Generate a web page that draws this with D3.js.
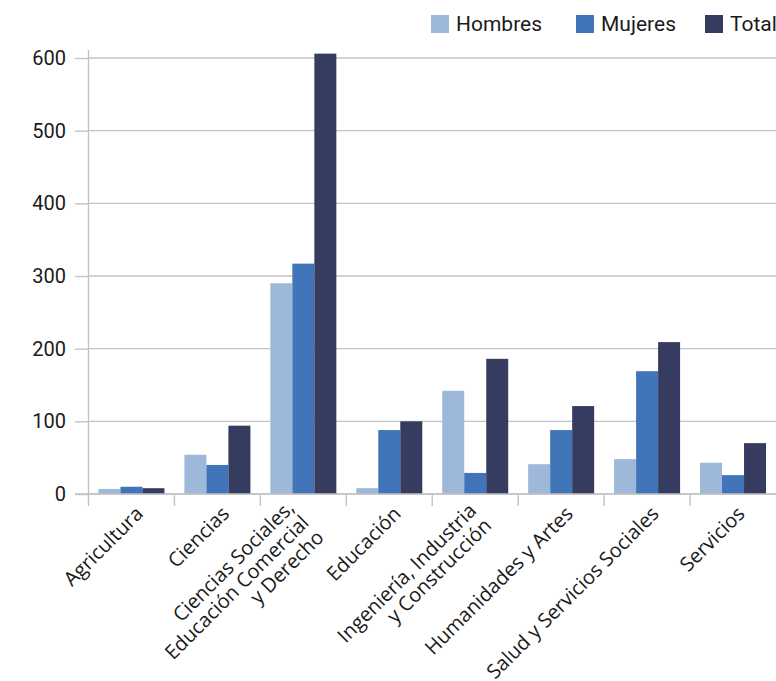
<!DOCTYPE html>
<html>
<head>
<meta charset="utf-8">
<script src="https://cdn.jsdelivr.net/npm/d3@7"></script>
<style>
  html, body { margin: 0; padding: 0; background: #fff; }
  svg { display: block; }
</style>
</head>
<body>
<svg id="chart" width="776" height="681"></svg>
<script>
// ---- data ----
const categories = [
  ["Agricultura"],
  ["Ciencias"],
  ["Ciencias Sociales,", "Educación Comercial", "y Derecho"],
  ["Educación"],
  ["Ingeniería, Industria", "y Construcción"],
  ["Humanidades y Artes"],
  ["Salud y Servicios Sociales"],
  ["Servicios"]
];
const seriesNames = ["Hombres", "Mujeres", "Total"];
const hombres = [7, 54, 290, 8, 142, 41, 48, 43];
const mujeres = [10, 40, 317, 88, 29, 88, 169, 26];
const total   = [8, 94, 606, 100, 186, 121, 209, 70];
const yTicks  = [0, 100, 200, 300, 400, 500, 600];
const colors  = ["#9db8d9", "#4174b8", "#363c5f"];

(function () {
const seriesValues = [hombres, mujeres, total];
const catKeys = categories.map(c => c.join(" "));

const svg = d3.select("#chart");
const pLeft = 88.5, pRight = 776, pTop = 58, pBottom = 494;

const x0 = d3.scaleBand().domain(catKeys).range([pLeft, pRight]).paddingInner(0).paddingOuter(0);
const bw = x0.bandwidth();
const x1 = d3.scaleBand().domain(seriesNames).range([bw * 0.116, bw * 0.884]).padding(0);
const y = d3.scaleLinear().domain([0, 600]).range([pBottom, pTop]);

const gridColor = "#c3c3c3";
const font = "Roboto, 'DejaVu Sans', sans-serif";

// y axis ticks/labels
const yAxis = d3.axisLeft(y).tickValues(yTicks).tickSize(pLeft - 75).tickPadding(9).tickFormat(d3.format("d"));
const gy = svg.append("g").attr("transform", `translate(${pLeft},0)`).call(yAxis);
gy.select(".domain").remove();
gy.selectAll(".tick line").attr("stroke", gridColor).attr("stroke-width", 1.4);
gy.selectAll(".tick text").attr("font-family", font).attr("font-size", 20).attr("fill", "#1a1a1a");

// gridlines
svg.append("g").selectAll("line").data(yTicks).join("line")
  .attr("x1", pLeft).attr("x2", pRight)
  .attr("y1", d => y(d)).attr("y2", d => y(d))
  .attr("stroke", gridColor).attr("stroke-width", 1.4);

// y axis line
svg.append("line").attr("x1", pLeft).attr("x2", pLeft).attr("y1", 50).attr("y2", pBottom)
  .attr("stroke", gridColor).attr("stroke-width", 1.4);

// category ticks
const bounds = catKeys.map(k => x0(k));
svg.append("g").selectAll("line").data(bounds).join("line")
  .attr("x1", d => d).attr("x2", d => d).attr("y1", pBottom).attr("y2", pBottom + 12)
  .attr("stroke", gridColor).attr("stroke-width", 1.4);

// bars
const gBars = svg.append("g");
catKeys.forEach((k, i) => {
  seriesNames.forEach((s, j) => {
    const v = seriesValues[j][i];
    gBars.append("rect")
      .attr("x", x0(k) + x1(s))
      .attr("width", x1.bandwidth())
      .attr("y", y(v))
      .attr("height", y(0) - y(v))
      .attr("fill", colors[j]);
  });
});

// baseline
svg.append("line").attr("x1", 75).attr("x2", pRight).attr("y1", pBottom).attr("y2", pBottom)
  .attr("stroke", gridColor).attr("stroke-width", 1.4);

// x labels rotated
const labelFont = "'Open Sans', 'DejaVu Sans', sans-serif";
const lineH = 21;
categories.forEach((lines, i) => {
  const bc = x0(catKeys[i]) + bw / 2;
  const n = lines.length;
  const px = bc + 13 - 10.5 * (n - 1);
  const py = 515 - 3 * (n - 1);
  const t = svg.append("text")
    .attr("transform", `translate(${px},${py}) rotate(-45)`)
    .attr("text-anchor", "end")
    .attr("font-family", labelFont)
    .attr("font-size", 20)
    .attr("fill", "#1a1a1a");
  lines.forEach((ln, li) => {
    t.append("tspan").attr("x", 0).attr("y", li * lineH).text(ln);
  });
});

// legend
const legendX = [431, 576, 705];
const lg = svg.append("g");
seriesNames.forEach((s, j) => {
  lg.append("rect").attr("x", legendX[j]).attr("y", 15).attr("width", 18).attr("height", 18).attr("fill", colors[j]);
  lg.append("text").attr("x", legendX[j] + 25).attr("y", 31)
    .attr("font-family", font).attr("font-size", 21).attr("fill", "#1a1a1a").text(s);
});
})();
</script>
</body>
</html>
